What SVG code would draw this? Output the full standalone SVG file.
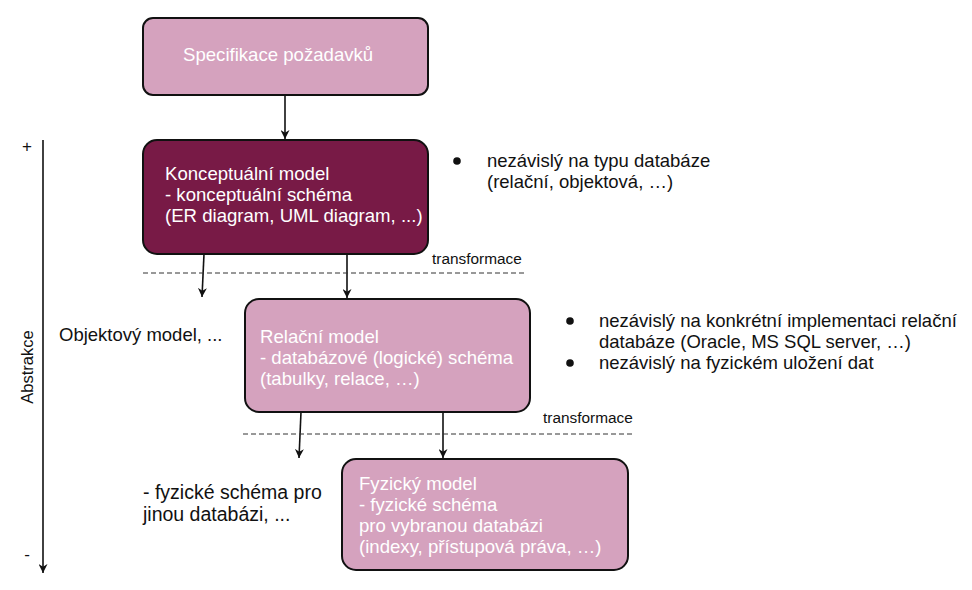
<svg xmlns="http://www.w3.org/2000/svg" width="972" height="590" viewBox="0 0 972 590">
<defs>
<style>
.box{fill:#d5a2be;stroke:#111;stroke-width:2}
.dark{fill:#781a46;stroke:#111;stroke-width:2}
.wt{fill:#fff;font-family:"Liberation Sans",Arial,sans-serif;font-size:18.6px}
.bt{fill:#111;font-family:"Liberation Sans",Arial,sans-serif;font-size:18.5px}
.st{fill:#111;font-family:"Liberation Sans",Arial,sans-serif;font-size:15.4px}
.ln{stroke:#111;stroke-width:1.6;fill:none}
.dash{stroke:#333;stroke-width:1;stroke-dasharray:5 3;fill:none}
</style>
<marker id="ah" viewBox="0 0 10 10" refX="10" refY="5" markerWidth="9" markerHeight="9" markerUnits="userSpaceOnUse" orient="auto">
<path d="M0,0 L10,5 L0,10 L3,5 z" fill="#111"/>
</marker>
</defs>
<rect width="972" height="590" fill="#fff"/>

<g id="connectors">
<line class="ln" x1="285" y1="95" x2="285" y2="139" marker-end="url(#ah)"/>
<line class="ln" x1="204" y1="254" x2="202" y2="297" marker-end="url(#ah)"/>
<line class="ln" x1="347" y1="254" x2="347" y2="298" marker-end="url(#ah)"/>
<line class="ln" x1="301" y1="412" x2="299" y2="458" marker-end="url(#ah)"/>
<line class="ln" x1="443" y1="412" x2="443" y2="458" marker-end="url(#ah)"/>
</g>

<g id="transform1">
<line class="dash" x1="143" y1="273" x2="526" y2="273"/>
<text class="st" x="432" y="264">transformace</text>
</g>
<g id="transform2">
<line class="dash" x1="243" y1="434" x2="634" y2="434"/>
<text class="st" x="543" y="423">transformace</text>
</g>

<g id="axis">
<line class="ln" x1="43" y1="140" x2="43" y2="573" marker-end="url(#ah)"/>
<text class="bt" x="27" y="152" text-anchor="middle" style="font-size:17px">+</text>
<text class="bt" x="27" y="560" text-anchor="middle" style="font-size:17px">-</text>
<text class="st" transform="translate(33,367) rotate(-90)" text-anchor="middle" style="font-size:16.5px">Abstrakce</text>
</g>

<g id="spec">
<rect class="box" x="143" y="18" width="285" height="77" rx="10"/>
<text class="wt" x="183" y="61">Specifikace požadavků</text>
</g>

<g id="konceptualni">
<rect class="dark" x="143" y="140" width="285" height="114" rx="14"/>
<text class="wt" x="165" y="180">Konceptuální model</text>
<text class="wt" x="165" y="201">- konceptuální schéma</text>
<text class="wt" x="165" y="222">(ER diagram, UML diagram, ...)</text>
</g>

<g id="relacni">
<rect class="box" x="245" y="299" width="285" height="113" rx="14"/>
<text class="wt" x="260" y="343">Relační model</text>
<text class="wt" x="260" y="364">- databázové (logické) schéma</text>
<text class="wt" x="260" y="385">(tabulky, relace, …)</text>
</g>

<g id="fyzicky">
<rect class="box" x="342" y="459" width="286" height="111" rx="14"/>
<text class="wt" x="359" y="490">Fyzický model</text>
<text class="wt" x="359" y="511">- fyzické schéma</text>
<text class="wt" x="359" y="532">pro vybranou databázi</text>
<text class="wt" x="359" y="553">(indexy, přístupová práva, …)</text>
</g>

<g id="note1">
<circle cx="457" cy="161" r="3.8" fill="#111"/>
<text class="bt" x="487" y="167">nezávislý na typu databáze</text>
<text class="bt" x="487" y="188">(relační, objektová, …)</text>
</g>

<g id="note2">
<circle cx="570" cy="321" r="3.8" fill="#111"/>
<text class="bt" x="599" y="327">nezávislý na konkrétní implementaci relační</text>
<text class="bt" x="599" y="348">databáze (Oracle, MS SQL server, …)</text>
<circle cx="570" cy="363" r="3.8" fill="#111"/>
<text class="bt" x="599" y="369">nezávislý na fyzickém uložení dat</text>
</g>

<g id="objektovy">
<text class="bt" x="59" y="341">Objektový model, ...</text>
</g>

<g id="jina">
<text class="bt" x="143" y="499" style="font-size:19.5px">- fyzické schéma pro</text>
<text class="bt" x="143" y="521" style="font-size:19.5px">jinou databázi,  ...</text>
</g>
</svg>
